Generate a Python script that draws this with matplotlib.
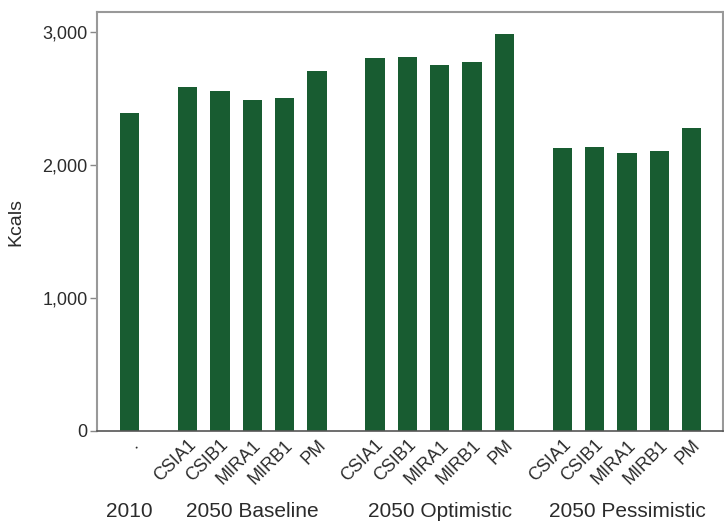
import matplotlib
matplotlib.use("Agg")
import matplotlib.pyplot as plt
import numpy as np

plt.rcParams['font.family'] = ['Liberation Sans', 'DejaVu Sans']

groups = ["2010", "2050 Baseline", "2050 Optimistic", "2050 Pessimistic"]
scenarios = ["CSIA1", "CSIB1", "MIRA1", "MIRB1", "PM"]
val_2010 = [2395]
val_baseline = [2586, 2558, 2491, 2508, 2709]
val_optimistic = [2804, 2817, 2754, 2774, 2985]
val_pessimistic = [2127, 2139, 2094, 2109, 2278]
yticks = [0, 1000, 2000, 3000]

color = '#185c31'
text_color = '#2b2b2b'

fig = plt.figure(figsize=(7.24, 5.29), dpi=100)
ax = fig.add_axes([0.1344, 0.1853, 0.9982 - 0.1344, 0.9767 - 0.1853])

gap = 1.8
positions = [0.0]
labels = ["."]
group_centers = [0.0]
start = gap
for vals in (val_baseline, val_optimistic, val_pessimistic):
    pos = [start + i for i in range(len(vals))]
    positions += pos
    labels += scenarios
    group_centers.append(np.mean(pos))
    start = pos[-1] + gap

values = val_2010 + val_baseline + val_optimistic + val_pessimistic
ax.bar(positions, values, width=0.6, color=color, edgecolor='none')

ax.set_xlim(-1.0, 18.36)
ax.set_ylim(0, 3150)
ax.set_yticks(yticks)
ax.set_yticklabels([f"{v:,}" for v in yticks], fontsize=13, color=text_color)
ax.set_xticks(positions)
ax.set_xticklabels(labels, rotation=45, ha='right', va='top', rotation_mode='anchor',
                   fontsize=13, color=text_color)
ax.tick_params(axis='x', length=0, pad=4)
ax.tick_params(axis='y', length=5, width=1, color='#888888', pad=2)

for s in ['top', 'left', 'right']:
    ax.spines[s].set_color('#999999')
    ax.spines[s].set_linewidth(1.5)
ax.spines['bottom'].set_color('#555555')
ax.spines['bottom'].set_linewidth(1.2)

for g, c in zip(groups, group_centers):
    ax.text(c, -0.1935, g, transform=ax.get_xaxis_transform(), ha='center', va='center',
            fontsize=15, color=text_color)

fig.text(16 / 724, 1 - 222 / 529, "Kcals", rotation=90, ha='center', va='center',
         fontsize=14, color=text_color)

fig.savefig("out.png", dpi=100)
